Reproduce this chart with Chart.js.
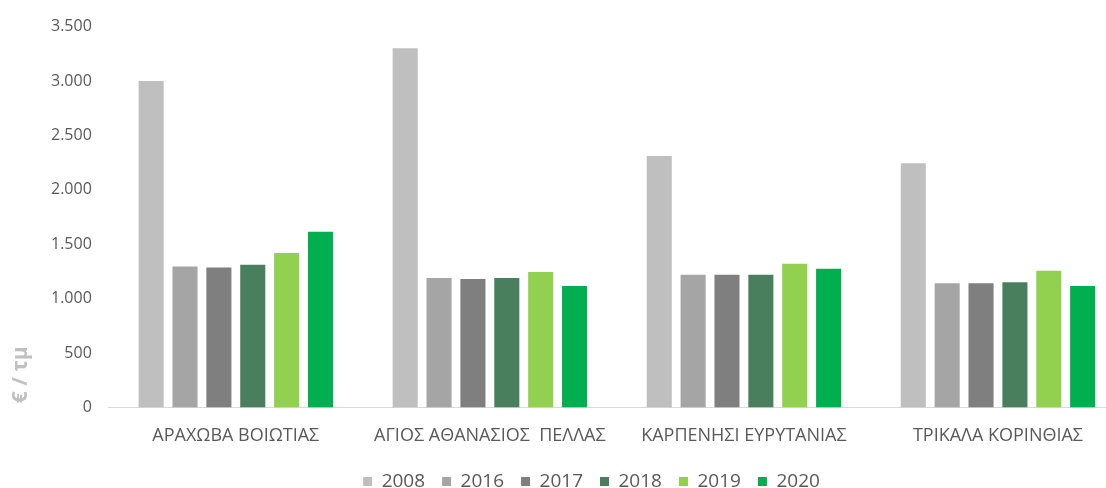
<!DOCTYPE html>
<html>
<head>
<meta charset="utf-8">
<script src="https://cdn.jsdelivr.net/npm/chart.js@4/dist/chart.umd.min.js"></script>
<style>
  html, body { margin: 0; padding: 0; background: #fff; overflow: hidden; }
  #wrap { width: 1130px; height: 501px; }
</style>
</head>
<body>
<div id="wrap"><canvas id="chart"></canvas></div>
<script>
var categories = ['ΑΡΑΧΩΒΑ ΒΟΙΩΤΙΑΣ', 'ΑΓΙΟΣ ΑΘΑΝΑΣΙΟΣ  ΠΕΛΛΑΣ', 'ΚΑΡΠΕΝΗΣΙ ΕΥΡΥΤΑΝΙΑΣ', 'ΤΡΙΚΑΛΑ ΚΟΡΙΝΘΙΑΣ'];
var years = ['2008', '2016', '2017', '2018', '2019', '2020'];
var values2008 = [3000, 3300, 2310, 2245];
var values2016 = [1295, 1190, 1220, 1140];
var values2017 = [1285, 1180, 1220, 1140];
var values2018 = [1310, 1190, 1220, 1150];
var values2019 = [1420, 1245, 1320, 1255];
var values2020 = [1615, 1115, 1275, 1115];
var yTicks = [0, 500, 1000, 1500, 2000, 2500, 3000, 3500];
var colors = ['#bfbfbf', '#a5a5a5', '#7f7f7f', '#4a7f5e', '#92d050', '#00b050'];

var series = [values2008, values2016, values2017, values2018, values2019, values2020];

// y axis title sits low, next to the bottom ticks
var axisTitle = {
    id: 'axisTitle',
    afterDraw: function(chart) {
        var ctx = chart.ctx;
        var y = chart.scales.y.getPixelForValue(300);
        ctx.save();
        ctx.translate(21, y);
        ctx.rotate(-Math.PI / 2);
        ctx.fillStyle = '#c0c0c0';
        ctx.font = 'bold 21px "Open Sans", sans-serif';
        ctx.textAlign = 'center';
        ctx.textBaseline = 'middle';
        ctx.fillText('€ / τμ', 0, 0);
        ctx.restore();
    }
};

// legend in the original is centred a bit right of the plot centre
var legendShift = {
    id: 'legendShift',
    afterLayout: function(chart) {
        chart.legend.left += 12;
        chart.legend.right += 12;
    }
};

new Chart(document.getElementById('chart'), {
    type: 'bar',
    data: {
        labels: categories,
        datasets: years.map(function(yr, i) {
            return {
                label: yr,
                data: series[i],
                backgroundColor: colors[i],
                categoryPercentage: 0.8,
                barPercentage: 0.74
            };
        })
    },
    options: {
        responsive: true,
        maintainAspectRatio: false,
        animation: false,
        layout: { padding: { top: 8, left: 34, right: 5, bottom: 0 } },
        plugins: {
            legend: {
                position: 'bottom',
                labels: {
                    boxWidth: 9,
                    boxHeight: 9,
                    padding: 17,
                    color: '#595959',
                    font: { family: '"Open Sans", sans-serif', size: 19 }
                }
            },
            tooltip: { enabled: false }
        },
        scales: {
            x: {
                grid: { display: false, drawTicks: false },
                border: { color: '#d9d9d9', width: 1 },
                afterFit: function(scale) {
                    // legend sits closer to the category labels
                    scale.height -= 10;
                },
                ticks: {
                    color: '#595959',
                    padding: 18,
                    maxRotation: 0,
                    autoSkip: false,
                    font: { family: '"Open Sans", sans-serif', size: 18 }
                }
            },
            y: {
                min: 0,
                max: 3500,
                afterBuildTicks: function(axis) {
                    axis.ticks = yTicks.map(function(v) { return { value: v }; });
                },
                grid: { display: false, drawTicks: false },
                border: { display: false },
                ticks: {
                    color: '#595959',
                    padding: 17,
                    font: { family: '"Open Sans", sans-serif', size: 16 },
                    callback: function(v) {
                        return String(v).replace(/\B(?=(\d{3})+(?!\d))/g, '.');
                    }
                }
            }
        }
    },
    plugins: [axisTitle, legendShift]
});
</script>
</body>
</html>
